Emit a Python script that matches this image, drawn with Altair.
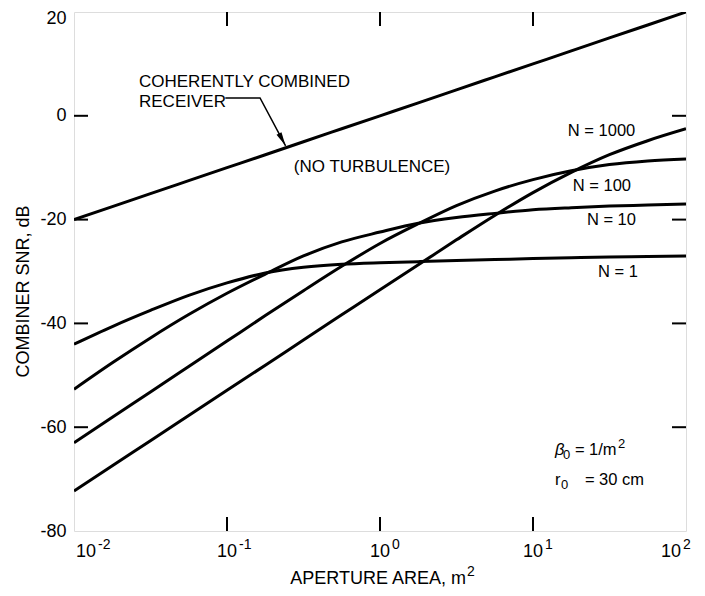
import altair as alt
import pandas as pd

# ---------------- data ----------------
AREA = [0.01, 0.0178, 0.0316, 0.0562, 0.1, 0.178, 0.316, 0.562, 1.0,
        1.78, 3.16, 5.62, 10.0, 17.8, 31.6, 56.2, 100.0]
COHERENT = [-20, -17.5, -15, -12.5, -10, -7.5, -5, -2.5, 0,
            2.5, 5, 7.5, 10, 12.5, 15, 17.5, 20]
N1 = [-44.0, -40.6, -37.5, -34.6, -32.2, -30.3, -29.2, -28.6, -28.3,
      -28.1, -27.9, -27.7, -27.5, -27.35, -27.2, -27.1, -27.0]
N10 = [-52.7, -47.6, -42.8, -38.3, -34.2, -30.5, -27.0, -24.3, -22.4,
       -20.7, -19.6, -18.8, -18.1, -17.7, -17.4, -17.2, -17.0]
N100 = [-63.0, -58.1, -53.2, -48.3, -43.4, -38.5, -33.7, -29.0, -24.6,
        -20.8, -17.3, -14.5, -12.3, -10.6, -9.4, -8.7, -8.3]
N1000 = [-72.3, -67.45, -62.6, -57.75, -52.9, -48.05, -43.2, -38.35, -33.5,
         -28.7, -23.9, -19.2, -14.8, -10.9, -7.5, -4.8, -2.5]
SERIES = {"coherent": COHERENT, "N = 1": N1, "N = 10": N10,
          "N = 100": N100, "N = 1000": N1000}

# curve labels (left edge x, centre y)
CURVE_LABELS = ["N = 1000", "N = 100", "N = 10", "N = 1"]
CURVE_LABEL_X = [16.9, 18.2, 22.5, 26.6]
CURVE_LABEL_Y = [-3.0, -13.5, -20.1, -30.0]

# axis ticks / labels
X_TICKS = [0.1, 1, 10]
Y_TICKS = [0, -20, -40, -60]
X_LABELS = [0.01, 0.1, 1, 10, 100]
X_EXP = ["-2", "-1", "0", "1", "2"]
X_LABEL_SHIFT = [12, 0, 0, 0, -15]
Y_LABELS = [20, 0, -20, -40, -60, -80]

FONT = "Liberation Sans"
FS = 16.5      # in-plot labels
FA = 18        # axis labels / titles
W, H = 612, 519

rows = []
for name, vals in SERIES.items():
    for a, v in zip(AREA, vals):
        rows.append({"series": name, "area": a, "snr": v})
df = pd.DataFrame(rows)

xs = alt.Scale(type="log", domain=[0.01, 100], nice=False)
ys = alt.Scale(domain=[-80, 20], nice=False)

YAX = alt.Axis(values=Y_LABELS, ticks=False, domain=False, grid=False,
               labelExpr="datum.value < 0 ? '-' + abs(datum.value) : '' + datum.value",
               labelFont=FONT, labelFontSize=FA, labelColor="black",
               labelPadding=8,
               labelOffset={"condition": {"test": "datum.value == 20", "value": 6},
                            "value": 0},
               title="COMBINER SNR, dB", titleFont=FONT, titleFontSize=FA,
               titleFontWeight="normal", titleColor="black",
               titleX=-51, titleY=279, titleBaseline="middle")


def X(field):
    return alt.X(field, scale=xs, axis=None)


def Y(field):
    return alt.Y(field, scale=ys, axis=YAX)


lines = alt.Chart(df).mark_line(color="black", strokeWidth=3,
                                interpolate="monotone", clip=True).encode(
    x=X("area:Q"), y=Y("snr:Q"), detail="series:N")

# inward ticks
xt = pd.DataFrame({"t": X_TICKS})
yt = pd.DataFrame({"t": Y_TICKS})
tick_style = dict(color="black", strokeWidth=2)
bot = alt.Chart(xt).mark_rule(**tick_style).encode(
    x=X("t:Q"), y=alt.value(H), y2=alt.value(H - 14))
top = alt.Chart(xt).mark_rule(**tick_style).encode(
    x=X("t:Q"), y=alt.value(0), y2=alt.value(14))
left = alt.Chart(yt).mark_rule(**tick_style).encode(
    y=Y("t:Q"), x=alt.value(0), x2=alt.value(14))
right = alt.Chart(yt).mark_rule(**tick_style).encode(
    y=Y("t:Q"), x=alt.value(W), x2=alt.value(W - 14))

# x tick labels: "10" with superscript exponent
xlab_layers = []
for shift in sorted(set(X_LABEL_SHIFT)):
    sub = pd.DataFrame({"v": [v for v, s in zip(X_LABELS, X_LABEL_SHIFT) if s == shift],
                        "e": [e for e, s in zip(X_EXP, X_LABEL_SHIFT) if s == shift]})
    xlab_layers.append(alt.Chart(sub).mark_text(
        font=FONT, fontSize=FA, align="center", baseline="middle", color="black",
        dx=shift).encode(x=X("v:Q"), y=alt.value(H + 21), text=alt.value("10")))
    xlab_layers.append(alt.Chart(sub).mark_text(
        font=FONT, fontSize=14, align="left", baseline="middle", color="black",
        dx=shift + 12).encode(x=X("v:Q"), y=alt.value(H + 14), text="e:N"))

# x title
xt1 = alt.Chart(pd.DataFrame({"t": ["APERTURE AREA, m"]})).mark_text(
    font=FONT, fontSize=FA, align="right", baseline="middle", color="black").encode(
    x=alt.value(392), y=alt.value(567), text="t:N")
xt2 = alt.Chart(pd.DataFrame({"t": ["2"]})).mark_text(
    font=FONT, fontSize=14, align="left", baseline="middle", color="black").encode(
    x=alt.value(393), y=alt.value(560), text="t:N")

# curve labels
cl = pd.DataFrame({"x": CURVE_LABEL_X, "y": CURVE_LABEL_Y, "t": CURVE_LABELS})
curve_lab = alt.Chart(cl).mark_text(font=FONT, fontSize=FS, align="left",
                                    baseline="middle", color="black").encode(
    x=X("x:Q"), y=Y("y:Q"), text="t:N")

# annotations
ANN_X = [0.0266, 0.0266]
ANN_Y = [6.44, 2.72]
ANN_T = ["COHERENTLY COMBINED", "RECEIVER"]
ann_l = alt.Chart(pd.DataFrame({"x": ANN_X, "y": ANN_Y, "t": ANN_T})).mark_text(
    font=FONT, fontSize=17, align="left", baseline="middle", color="black").encode(
    x=X("x:Q"), y=Y("y:Q"), text="t:N")
ann_c = alt.Chart(pd.DataFrame({"x": [0.887], "y": [-9.9], "t": ["(NO TURBULENCE)"]})).mark_text(
    font=FONT, fontSize=17, align="center", baseline="middle", color="black").encode(
    x=X("x:Q"), y=Y("y:Q"), text="t:N")

leader = pd.DataFrame({"x": [0.0975, 0.1644, 0.2415], "y": [3.43, 3.43, -5.78],
                       "o": [0, 1, 2]})
lead = alt.Chart(leader).mark_line(color="black", strokeWidth=1.5).encode(
    x=X("x:Q"), y=Y("y:Q"), order="o:Q")
arrow = alt.Chart(pd.DataFrame({"x": [0.2298], "y": [-4.59]})).mark_point(
    shape="M0,-1L0.4,1L-0.4,1Z", filled=True, color="black", opacity=1,
    size=196, angle=152).encode(x=X("x:Q"), y=Y("y:Q"))

# parameter block
PX0 = 13.9
P_Y = [-64.4, -70.2]


def txt(yv, dx, dy, fs, t, style="normal"):
    return alt.Chart(pd.DataFrame({"x": [PX0], "y": [yv]})).mark_text(
        font=FONT, fontSize=fs, align="left", baseline="middle", color="black",
        dx=dx, dy=dy, fontStyle=style).encode(x=X("x:Q"), y=Y("y:Q"), text=alt.value(t))


params = [
    txt(P_Y[0], 0, 0, FS, "\u03b2", "italic"), txt(P_Y[0], 8, 5, 13, "0"),
    txt(P_Y[0], 20, 0, FS, "= 1/m"), txt(P_Y[0], 63, -6, 13, "2"),
    txt(P_Y[1], 0, 0, FS, "r"), txt(P_Y[1], 6, 5, 13, "0"),
    txt(P_Y[1], 30, 0, FS, "= 30 cm"),
]

chart = alt.layer(lines, bot, top, left, right, *xlab_layers, xt1, xt2, curve_lab,
                  ann_l, ann_c, lead, arrow, *params).properties(
    width=W, height=H,
    autosize=alt.AutoSizeParams(type="none"),
    padding={"left": 66, "top": 4, "right": 11, "bottom": 57},
).configure_view(stroke="black", strokeWidth=2.5).configure(background="white")

chart.save("out.html", embed_options={"renderer": "svg", "actions": False})
